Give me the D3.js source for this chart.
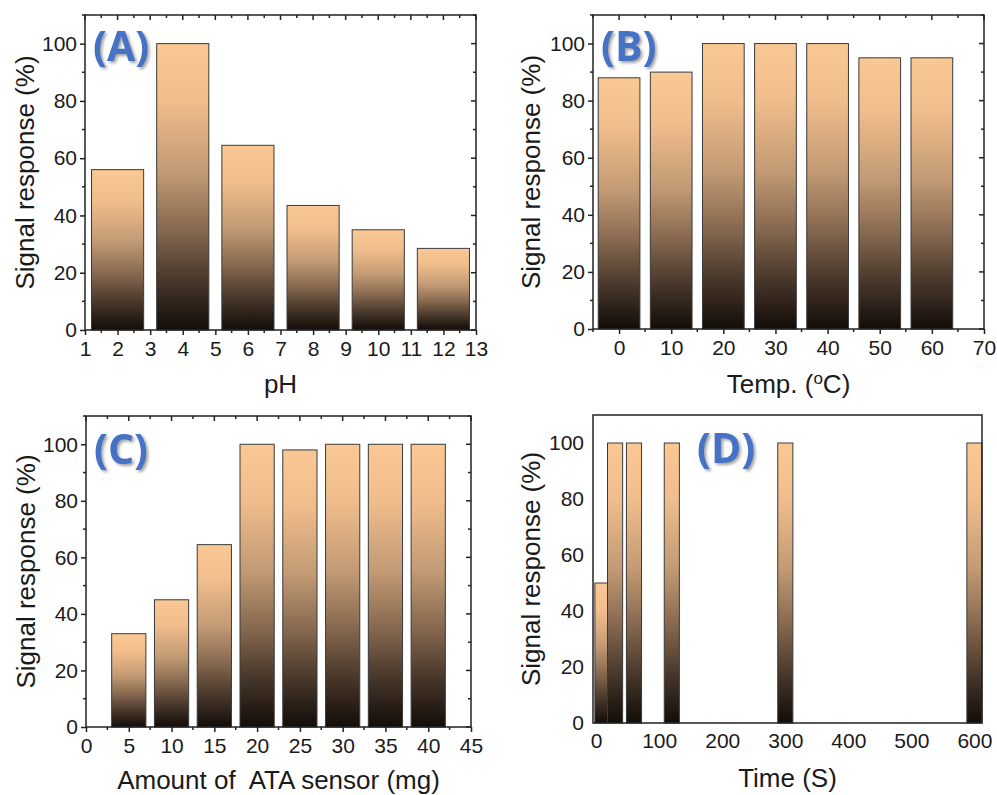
<!DOCTYPE html>
<html>
<head>
<meta charset="utf-8">
<script src="https://cdn.jsdelivr.net/npm/d3@7"></script>
<style>
  body { margin: 0; background: #fff; }
  svg { display: block; font-family: "Liberation Sans", Arial, sans-serif; }
</style>
</head>
<body>
<svg id="chart" width="997" height="795"></svg>
<script>
// (A) pH
var phX = [2, 4, 6, 8, 10, 12];
var phY = [56, 100, 64.5, 43.5, 35, 28.5];
var phTicks = [1, 2, 3, 4, 5, 6, 7, 8, 9, 10, 11, 12, 13];
// (B) temperature
var tempX = [0, 10, 20, 30, 40, 50, 60];
var tempY = [88, 90, 100, 100, 100, 95, 95];
var tempTicks = [0, 10, 20, 30, 40, 50, 60, 70];
// (C) amount of sensor
var amountX = [5, 10, 15, 20, 25, 30, 35, 40];
var amountY = [33, 45, 64.5, 100, 98, 100, 100, 100];
var amountTicks = [0, 5, 10, 15, 20, 25, 30, 35, 40, 45];
// (D) time
var timeX = [10, 30, 60, 120, 300, 600];
var timeY = [50, 100, 100, 100, 100, 100];
var timeTicks = [0, 100, 200, 300, 400, 500, 600];

var yTicks = [0, 20, 40, 60, 80, 100];
var yTitle = "Signal response (%)";
var FONT = "'Liberation Sans', Arial, sans-serif";

var svg = d3.select("#chart");
var defs = svg.append("defs");

// each bar gets the same top-to-bottom fade (peach -> almost black)
var grad = defs.append("linearGradient")
    .attr("id", "barfill")
    .attr("x1", 0).attr("y1", 0).attr("x2", 0).attr("y2", 1);
[[0, "#fac894"], [0.2, "#f0bd8c"], [0.45, "#c29a74"], [0.65, "#86684f"],
 [0.82, "#4a392c"], [1, "#120c08"]].forEach(function(s){
    grad.append("stop").attr("offset", s[0]).attr("stop-color", s[1]);
});

var shadow = defs.append("filter").attr("id", "shadow")
    .attr("x", "-20%").attr("y", "-20%").attr("width", "150%").attr("height", "150%");
shadow.append("feDropShadow")
    .attr("dx", 2).attr("dy", 2).attr("stdDeviation", 1.5)
    .attr("flood-color", "#7a7a7a").attr("flood-opacity", 0.7);

function drawPanel(p){
    var x = d3.scaleLinear().domain(p.xDomain).range([p.left, p.right]);
    var y = d3.scaleLinear().domain([0, 110]).range([p.bottom, p.top]);
    var g = svg.append("g");

    // bars
    g.selectAll("rect.bar").data(p.xs).enter().append("rect")
        .attr("class", "bar")
        .attr("x", function(d){ return x(d - p.barW/2); })
        .attr("width", function(){ return x(p.barW) - x(0); })
        .attr("y", function(d, i){ return y(p.ys[i]); })
        .attr("height", function(d, i){ return y(0) - y(p.ys[i]); })
        .attr("fill", "url(#barfill)")
        .attr("stroke", "#3a3a3a")
        .attr("stroke-width", 1);

    var minorX = [];
    for(var i = 0; i < p.xTicks.length - 1; i++){
        minorX.push((p.xTicks[i] + p.xTicks[i+1]) / 2);
    }
    if(p.xDomain[0] < p.xTicks[0]) minorX.push(p.xTicks[0] - (p.xTicks[1] - p.xTicks[0]) / 2);
    var minorY = [10, 30, 50, 70, 90, 110];

    var tl = p.ticks ? 5 : 0;
    var tm = p.ticks ? 3 : 0;

    // bottom axis
    var bx = g.append("g").attr("transform", "translate(0," + p.bottom + ")")
        .call(d3.axisBottom(x).tickValues(p.xTicks).tickSize(tl).tickPadding(p.ticks ? 6 : 10).tickFormat(d3.format("d")));
    // left axis
    var ly = g.append("g").attr("transform", "translate(" + p.left + ",0)")
        .call(d3.axisLeft(y).tickValues(yTicks).tickSize(tl).tickPadding(p.ticks ? 3 : 9));
    [bx, ly].forEach(function(a){
        a.attr("font-family", FONT).attr("font-size", 21);
        a.select(".domain").remove();
        a.selectAll("line").attr("stroke", "#222").attr("stroke-width", 1.5);
        a.selectAll("text").attr("fill", "#1a1a1a");
    });

    if(p.ticks){
        // minor ticks out on bottom/left, mirrored ticks in on top/right
        var t = g.append("g").attr("stroke", "#222").attr("stroke-width", 1.5);
        t.selectAll("line.mxb").data(minorX).enter().append("line")
            .attr("x1", function(d){ return x(d); }).attr("x2", function(d){ return x(d); })
            .attr("y1", p.bottom).attr("y2", p.bottom + tm);
        t.selectAll("line.mxt").data(p.xTicks.concat(minorX)).enter().append("line")
            .attr("x1", function(d){ return x(d); }).attr("x2", function(d){ return x(d); })
            .attr("y1", p.top).attr("y2", function(d){ return p.top + (minorX.indexOf(d) >= 0 ? tm : tl); });
        t.selectAll("line.myl").data(minorY).enter().append("line")
            .attr("y1", function(d){ return y(d); }).attr("y2", function(d){ return y(d); })
            .attr("x1", p.left).attr("x2", p.left - tm);
        t.selectAll("line.myr").data(yTicks.concat(minorY)).enter().append("line")
            .attr("y1", function(d){ return y(d); }).attr("y2", function(d){ return y(d); })
            .attr("x1", p.right).attr("x2", function(d){ return p.right - (minorY.indexOf(d) >= 0 ? tm : tl); });
    }

    // frame
    g.append("rect")
        .attr("x", p.left).attr("y", p.top)
        .attr("width", p.right - p.left).attr("height", p.bottom - p.top)
        .attr("fill", "none").attr("stroke", "#222").attr("stroke-width", 1.5);

    // axis titles
    g.append("text")
        .attr("transform", "translate(" + p.yTitleX + "," + (p.top + p.bottom)/2 + ") rotate(-90)")
        .attr("text-anchor", "middle").attr("dy", "0.35em")
        .attr("font-size", 26).attr("fill", "#1a1a1a")
        .text(yTitle);
    var xt = g.append("text")
        .attr("x", (p.left + p.right)/2).attr("y", p.xTitleY)
        .attr("text-anchor", "middle")
        .attr("font-size", 26).attr("fill", "#1a1a1a")
        .style("white-space", "pre");
    p.xTitle(xt);

    // panel letter
    g.append("text")
        .attr("x", p.letterX).attr("y", p.letterY)
        .attr("font-family", "'Open Sans', sans-serif").attr("font-weight", 700)
        .attr("font-size", 41).attr("fill", "#4472c4")
        .attr("filter", "url(#shadow)")
        .text(p.letter);
}

drawPanel({
    xs: phX, ys: phY, xTicks: phTicks, xDomain: [1, 13], barW: 1.6,
    left: 85, right: 476, top: 15, bottom: 330, ticks: true,
    yTitleX: 25, xTitleY: 393, letter: "(A)", letterX: 93, letterY: 61,
    xTitle: function(t){ t.text("pH"); }
});
drawPanel({
    xs: tempX, ys: tempY, xTicks: tempTicks, xDomain: [-5, 70], barW: 8,
    left: 593, right: 984, top: 15, bottom: 329, ticks: true,
    yTitleX: 531, xTitleY: 393, letter: "(B)", letterX: 601, letterY: 61,
    xTitle: function(t){
        t.append("tspan").text("Temp. (");
        t.append("tspan").attr("font-size", 17).attr("dy", -9).text("o");
        t.append("tspan").attr("dy", 9).text("C)");
    }
});
drawPanel({
    xs: amountX, ys: amountY, xTicks: amountTicks, xDomain: [0, 45], barW: 4,
    left: 86, right: 471, top: 416, bottom: 727, ticks: true,
    yTitleX: 26, xTitleY: 789, letter: "(C)", letterX: 94, letterY: 464,
    xTitle: function(t){ t.text("Amount of  ATA sensor (mg)"); }
});
drawPanel({
    xs: timeX, ys: timeY, xTicks: timeTicks, xDomain: [-5, 612], barW: 24,
    left: 593, right: 982, top: 415, bottom: 723, ticks: false,
    yTitleX: 531, xTitleY: 787, letter: "(D)", letterX: 697, letterY: 463,
    xTitle: function(t){ t.text("Time (S)"); }
});
</script>
</body>
</html>
